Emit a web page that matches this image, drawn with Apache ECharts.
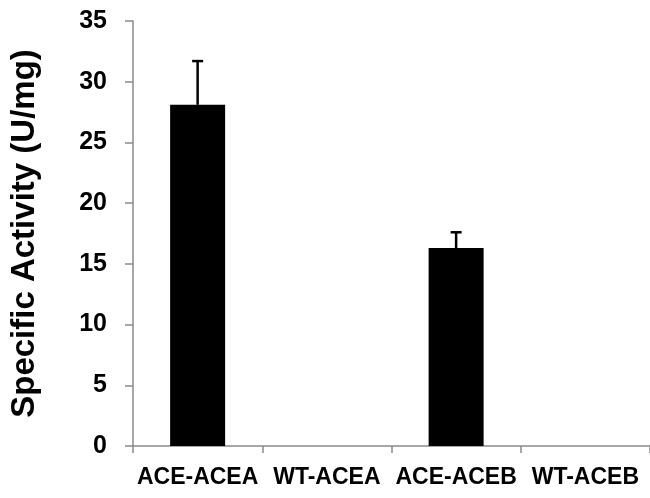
<!DOCTYPE html>
<html>
<head>
<meta charset="utf-8">
<script src="https://cdn.jsdelivr.net/npm/echarts@6/dist/echarts.min.js"></script>
<style>
  html, body { margin: 0; padding: 0; background: #fff; }
  #chart { width: 650px; height: 498px; }
</style>
</head>
<body>
<div id="chart"></div>
<script>
// Enzyme samples and their measured specific activity (U/mg)
var categories = ['ACE-ACEA', 'WT-ACEA', 'ACE-ACEB', 'WT-ACEB'];
var activity = [28.1, 0, 16.3, 0];
// Standard deviation drawn as an upward error bar
var deviation = [3.6, null, 1.3, null];
var yTicks = [0, 5, 10, 15, 20, 25, 30, 35];

var FONT = '"Liberation Sans", Arial, Helvetica, sans-serif';
var AXIS_GREY = '#8a8a8a';

var errorData = categories.map(function (c, i) {
  return deviation[i] == null ? null : [i, activity[i], activity[i] + deviation[i]];
}).filter(function (d) { return d; });

var chart = echarts.init(document.getElementById('chart'), null, { renderer: 'canvas' });

chart.setOption({
  animation: false,
  backgroundColor: '#ffffff',
  grid: { left: 133, top: 21, width: 529, height: 425 },
  xAxis: {
    type: 'category',
    data: categories,
    boundaryGap: true,
    axisLine: { lineStyle: { color: AXIS_GREY, width: 1.5 } },
    axisTick: { show: true, interval: 0, length: 7, lineStyle: { color: AXIS_GREY, width: 1.5 } },
    axisLabel: {
      interval: 0, margin: 20,
      color: '#000', fontFamily: FONT, fontWeight: 'bold', fontSize: 23
    },
    splitLine: { show: false }
  },
  yAxis: {
    type: 'value',
    min: yTicks[0],
    max: yTicks[yTicks.length - 1],
    interval: 5,
    name: 'Specific Activity (U/mg)',
    nameLocation: 'middle',
    nameGap: 92,
    nameTextStyle: { color: '#000', fontFamily: FONT, fontWeight: 'bold', fontSize: 33 },
    axisLine: { show: true, lineStyle: { color: AXIS_GREY, width: 1.5 } },
    axisTick: { show: true, inside: false, length: 8, lineStyle: { color: AXIS_GREY, width: 1.5 } },
    axisLabel: {
      margin: 26,
      color: '#000', fontFamily: FONT, fontWeight: 'bold', fontSize: 25
    },
    splitLine: { show: false }
  },
  series: [
    {
      type: 'bar',
      data: activity,
      barWidth: 55,
      itemStyle: { color: '#000' },
      z: 2
    },
    {
      type: 'custom',
      data: errorData,
      z: 3,
      renderItem: function (params, api) {
        var x = api.value(0);
        var base = api.coord([x, api.value(1)]);
        var top = api.coord([x, api.value(2)]);
        var half = 5.5;
        var style = { stroke: '#000', lineWidth: 2.5 };
        return {
          type: 'group',
          children: [
            { type: 'line', shape: { x1: base[0], y1: base[1], x2: top[0], y2: top[1] }, style: style },
            { type: 'line', shape: { x1: top[0] - half, y1: top[1], x2: top[0] + half, y2: top[1] }, style: style }
          ]
        };
      }
    }
  ]
});
</script>
</body>
</html>
